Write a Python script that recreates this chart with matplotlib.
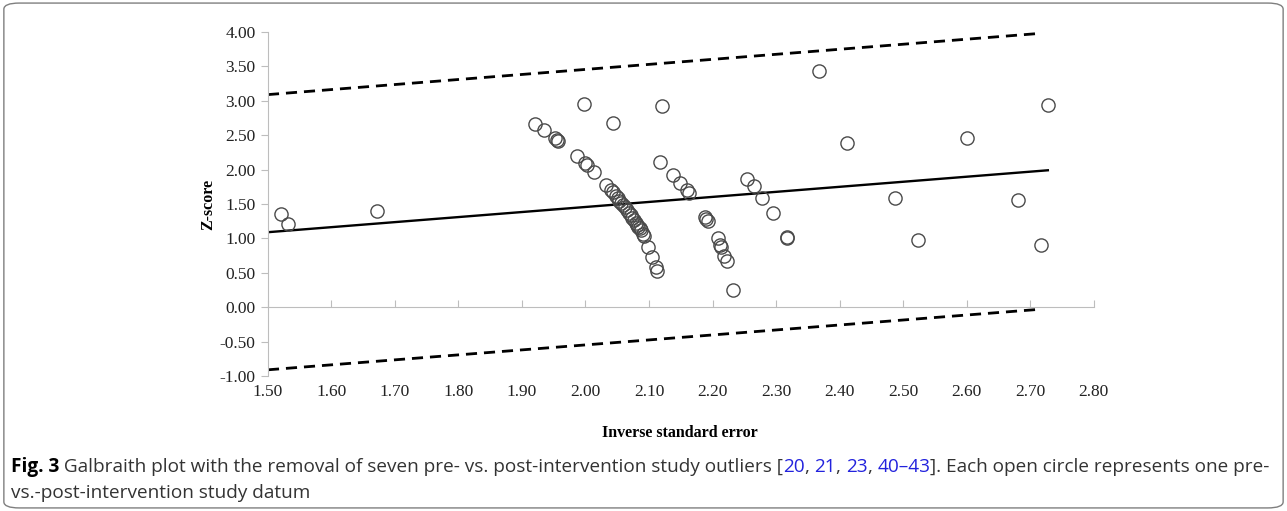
import matplotlib
matplotlib.use("Agg")
import matplotlib.pyplot as plt
from matplotlib.patches import FancyBboxPatch

# data
inv_se = [1.520, 1.531, 1.672,
          1.920, 1.935, 1.952, 1.955, 1.957, 1.987, 1.999, 2.003, 2.013,
          1.998, 2.043, 2.120, 2.117,
          2.032, 2.040, 2.043, 2.048, 2.051, 2.053, 2.056, 2.059, 2.062, 2.065,
          2.068, 2.072, 2.073, 2.076, 2.080, 2.081, 2.083, 2.086, 2.087, 2.091,
          2.092, 2.098, 2.105, 2.111, 2.113,
          2.138, 2.149, 2.160, 2.163,
          2.188, 2.190, 2.193,
          2.209, 2.212, 2.214, 2.218, 2.223, 2.232,
          2.254, 2.265, 2.278, 2.295, 2.317, 2.318,
          2.368, 2.412, 2.487, 2.524, 2.600, 2.681, 2.717, 2.728]
z_score = [1.36, 1.21, 1.40,
           2.66, 2.57, 2.46, 2.43, 2.41, 2.20, 2.10, 2.07, 1.96,
           2.95, 2.67, 2.93, 2.11,
           1.77, 1.71, 1.67, 1.61, 1.58, 1.55, 1.52, 1.49, 1.45, 1.41,
           1.37, 1.34, 1.30, 1.27, 1.22, 1.19, 1.17, 1.15, 1.12, 1.06,
           1.03, 0.87, 0.73, 0.58, 0.52,
           1.92, 1.80, 1.70, 1.66,
           1.31, 1.28, 1.25,
           1.00, 0.91, 0.87, 0.75, 0.67, 0.25,
           1.87, 1.76, 1.59, 1.37, 1.02, 1.00,
           3.43, 2.39, 1.59, 0.97, 2.46, 1.56, 0.91, 2.94]

fit_x = [1.50, 2.728]
fit_z = [1.09, 1.99]
band_x = [1.50, 2.716]
upper_z = [3.09, 3.98]
lower_z = [-0.91, -0.03]

xticks = [1.5 + 0.1 * i for i in range(14)]
yticks = [-1.0 + 0.5 * i for i in range(11)]

serif = ["Liberation Serif", "DejaVu Serif"]
grey = "#bdbdbd"

fig = plt.figure(figsize=(12.87, 5.11), dpi=100)
ax = fig.add_axes([0.2082, 0.2642, 0.6415, 0.6732])

ax.plot(band_x, upper_z, color="black", lw=2.0, ls=(0, (4, 2.5)))
ax.plot(band_x, lower_z, color="black", lw=2.0, ls=(0, (4, 2.5)))
ax.plot(fit_x, fit_z, color="black", lw=1.7)
ax.plot(inv_se, z_score, ls="none", marker="o", ms=9.5, mfc="none",
        mec="#4a4a4a", mew=1.0)

ax.set_xlim(1.5, 2.8)
ax.set_ylim(-1.0, 4.0)

for s in ["top", "right"]:
    ax.spines[s].set_visible(False)
ax.spines["left"].set_color(grey)
ax.spines["bottom"].set_color(grey)
ax.spines["bottom"].set_position(("data", 0))

ax.set_yticks(yticks)
ax.set_yticklabels([f"{v:.2f}" for v in yticks], family=serif, fontsize=12.5,
                   color="#222222")
ax.tick_params(axis="y", direction="out", length=5, color=grey, pad=4)
ax.set_xticks(xticks)
ax.tick_params(axis="x", direction="in", length=5, color=grey, labelbottom=False)

# x tick labels sit at the bottom of the axes, not on the zero line
sec = ax.secondary_xaxis(0)
sec.set_xticks(xticks)
sec.set_xticklabels([f"{v:.2f}" for v in xticks], family=serif, fontsize=12.5,
                    color="#222222")
sec.tick_params(length=0, pad=6)
sec.spines["bottom"].set_visible(False)

ax.set_ylabel("Z-score", family=serif, fontweight="bold", fontsize=11.5, labelpad=2)
fig.text(0.528, 0.152, "Inverse standard error", family=serif, fontweight="bold",
         fontsize=11.5, ha="center", va="center")

# rounded frame round the figure
frame = FancyBboxPatch((0.003, 0.006), 0.994, 0.988, boxstyle="round,pad=0,rounding_size=0.012",
                       transform=fig.transFigure, fill=False, ec="#7f7f7f", lw=1.0)
fig.patches.append(frame)

# caption with blue citation numbers
cap_font = ["Open Sans", "DejaVu Sans"]
line1 = [("Fig. 3", "black", "bold"),
         (" Galbraith plot with the removal of seven pre- vs. post-intervention study outliers [", "#333333", "normal"),
         ("20", "#2222dd", "normal"), (", ", "#333333", "normal"),
         ("21", "#2222dd", "normal"), (", ", "#333333", "normal"),
         ("23", "#2222dd", "normal"), (", ", "#333333", "normal"),
         ("40\u201343", "#2222dd", "normal"),
         ("]. Each open circle represents one pre-", "#333333", "normal")]
fig.canvas.draw()
r = fig.canvas.get_renderer()
x = 0.0085
for s, c, w in line1:
    t = fig.text(x, 0.086, s, color=c, fontweight=w, family=cap_font, fontsize=13.7,
                 va="center")
    x += t.get_window_extent(renderer=r).width / fig.bbox.width
fig.text(0.0085, 0.035, "vs.-post-intervention study datum", color="#333333",
         family=cap_font, fontsize=13.7, va="center")

fig.savefig("out.png", dpi=100)
